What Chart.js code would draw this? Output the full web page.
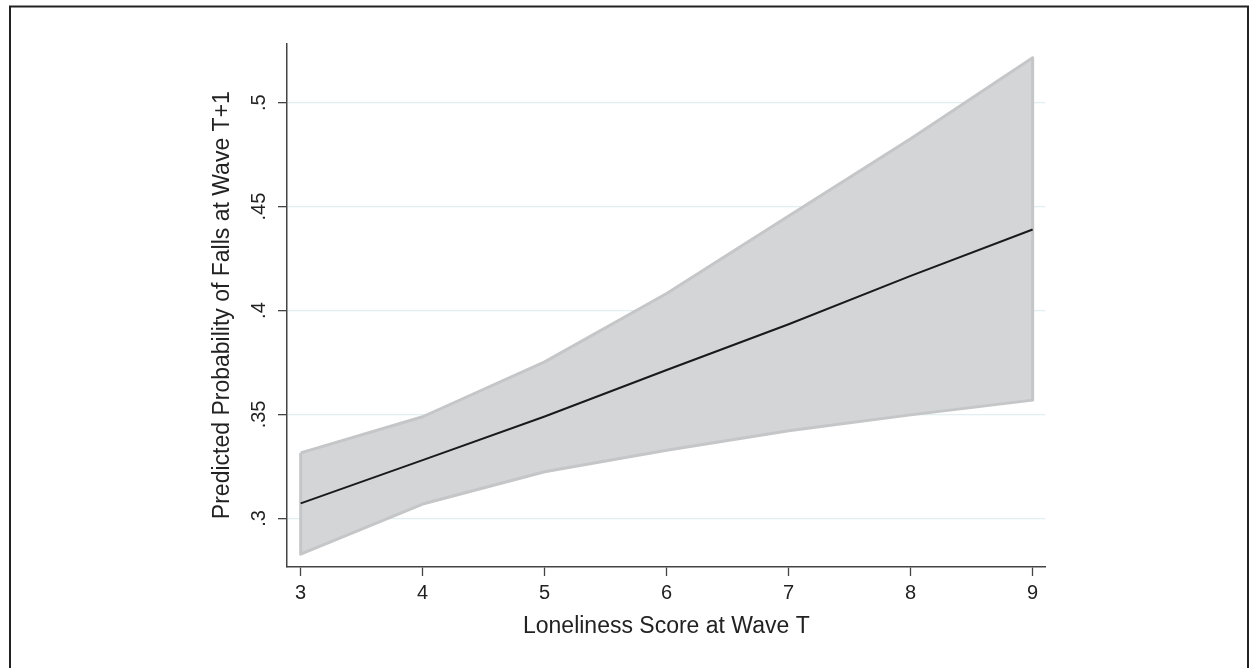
<!DOCTYPE html>
<html>
<head>
<meta charset="utf-8">
<script src="https://cdn.jsdelivr.net/npm/chart.js@4.4.1/dist/chart.umd.min.js"></script>
<style>
  html, body { margin: 0; padding: 0; background: #fff; }
  #wrap { position: relative; width: 1250px; height: 668px; }
</style>
</head>
<body>
<div id="wrap"><canvas id="chart" width="1250" height="668"></canvas></div>
<script>
// values
const loneliness = [3, 4, 5, 6, 7, 8, 9];
const predicted = [0.3072, 0.328, 0.349, 0.3714, 0.3934, 0.4167, 0.439];
const upperCI = [0.3315, 0.3489, 0.3753, 0.4082, 0.4455, 0.4827, 0.5216];
const lowerCI = [0.2828, 0.3069, 0.3224, 0.3328, 0.3422, 0.3498, 0.3569];
const xTicks = [3, 4, 5, 6, 7, 8, 9];
const yTicks = [0.3, 0.35, 0.4, 0.45, 0.5];
const yTickLabels = ['.3', '.35', '.4', '.45', '.5'];

const pts = (ys) => loneliness.map((x, i) => ({ x: x, y: ys[i] }));

// closed outline of the confidence band
const outline = pts(upperCI)
  .concat(pts(lowerCI).reverse())
  .concat([{ x: loneliness[0], y: upperCI[0] }]);

const FONT = '"Liberation Sans", Arial, Helvetica, sans-serif';
const AXIS = '#444';

// outer frame like the exported graph
const framePlugin = {
  id: 'frame',
  afterDraw(chart) {
    const ctx = chart.ctx;
    ctx.save();
    ctx.strokeStyle = '#222';
    ctx.lineWidth = 2;
    ctx.strokeRect(10, 6.5, 1238, 700);
    ctx.restore();
  }
};

new Chart(document.getElementById('chart'), {
  type: 'scatter',
  data: {
    datasets: [
      {
        label: 'Predicted',
        data: pts(predicted),
        showLine: true,
        borderColor: '#1a1a1a',
        borderWidth: 2,
        pointRadius: 0,
        fill: false
      },
      {
        label: 'outline',
        data: outline,
        showLine: true,
        borderColor: '#c5c6c8',
        borderWidth: 3,
        borderJoinStyle: 'round',
        pointRadius: 0,
        fill: false
      },
      {
        label: 'upper',
        data: pts(upperCI),
        showLine: true,
        borderWidth: 0,
        borderColor: 'rgba(0,0,0,0)',
        backgroundColor: '#d4d5d7',
        pointRadius: 0,
        fill: '+1'
      },
      {
        label: 'lower',
        data: pts(lowerCI),
        showLine: true,
        borderWidth: 0,
        borderColor: 'rgba(0,0,0,0)',
        pointRadius: 0,
        fill: false
      }
    ]
  },
  options: {
    responsive: false,
    animation: false,
    layout: { padding: { left: 0, top: 43.3, right: 204.3, bottom: 0 } },
    plugins: {
      legend: { display: false },
      tooltip: { enabled: false }
    },
    scales: {
      x: {
        type: 'linear',
        position: 'bottom',
        min: 2.888,
        max: 9.107,
        afterBuildTicks: (s) => { s.ticks = xTicks.map(v => ({ value: v })); },
        afterFit: (s) => { s.height = 101; },
        border: { color: AXIS, width: 1.5 },
        grid: { drawOnChartArea: false, tickLength: 9, tickColor: AXIS, tickWidth: 1.3 },
        ticks: {
          color: '#222',
          font: { family: FONT, size: 20 },
          padding: 5,
          maxRotation: 0,
          callback: (v) => String(v)
        },
        title: {
          display: true,
          text: 'Loneliness Score at Wave T',
          color: '#222',
          font: { family: FONT, size: 23 },
          padding: { top: 0, bottom: 28 }
        }
      },
      y: {
        type: 'linear',
        position: 'left',
        min: 0.2766,
        max: 0.5286,
        afterBuildTicks: (s) => { s.ticks = yTicks.map(v => ({ value: v })); },
        afterFit: (s) => { s.width = 287; },
        border: { color: AXIS, width: 1.5 },
        grid: { color: '#e2eef0', lineWidth: 1.3, tickLength: 9, tickColor: AXIS, tickWidth: 1.3 },
        ticks: {
          color: '#222',
          font: { family: FONT, size: 20 },
          padding: 5,
          minRotation: 90,
          maxRotation: 90,
          crossAlign: 'center',
          callback: (v) => {
            const i = yTicks.findIndex(t => Math.abs(t - v) < 1e-9);
            return i >= 0 ? yTickLabels[i] : '';
          }
        },
        title: {
          display: true,
          text: 'Predicted Probability of Falls at Wave T+1',
          color: '#222',
          font: { family: FONT, size: 23 },
          padding: { top: 209, bottom: 0 }
        }
      }
    }
  },
  plugins: [framePlugin]
});
</script>
</body>
</html>
